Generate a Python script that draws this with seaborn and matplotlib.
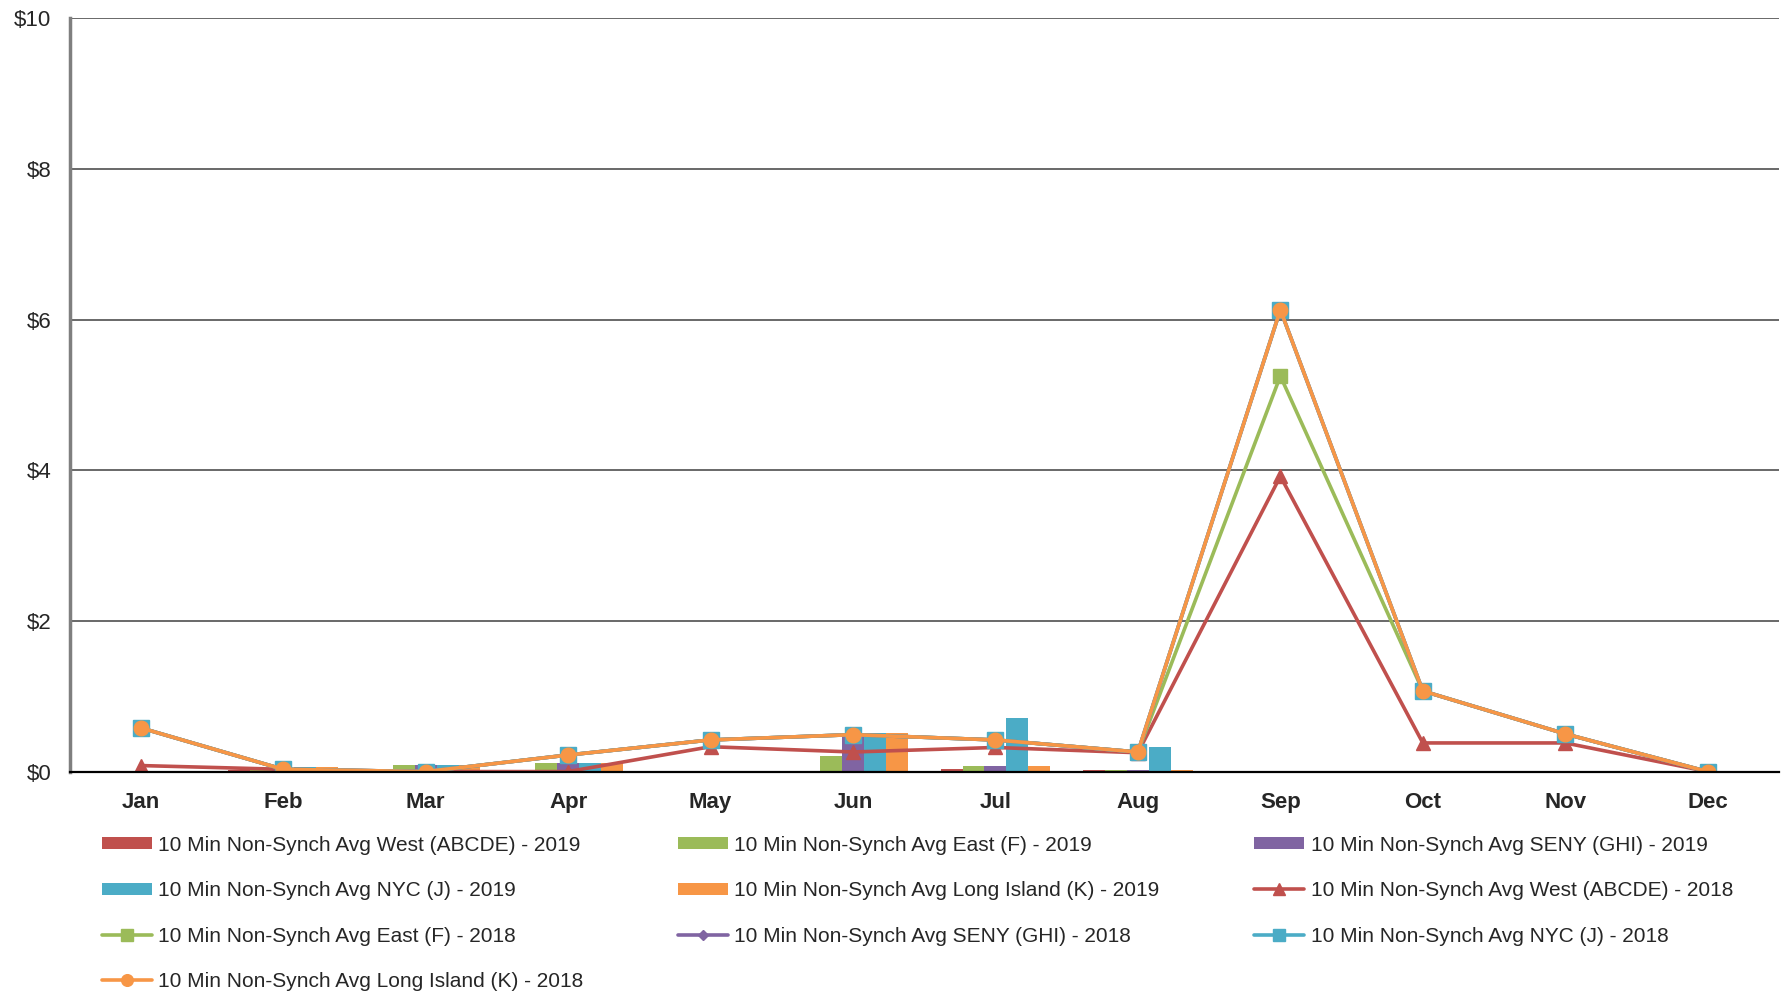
import numpy as np
import pandas as pd
import matplotlib
matplotlib.use('Agg')
import matplotlib.pyplot as plt
import seaborn as sns
from matplotlib.patches import Patch
from matplotlib.lines import Line2D

sns.set_style('white')
plt.rcParams['font.family'] = ['Liberation Sans', 'DejaVu Sans']

months = ['Jan', 'Feb', 'Mar', 'Apr', 'May', 'Jun', 'Jul', 'Aug', 'Sep', 'Oct', 'Nov', 'Dec']

# 2019 monthly averages (bars), data only through Aug
west_2019 = [0.0, 0.02, 0.01, 0.01, 0.0, 0.0, 0.035, 0.02, np.nan, np.nan, np.nan, np.nan]
east_2019 = [0.0, 0.05, 0.09, 0.11, 0.0, 0.21, 0.075, 0.02, np.nan, np.nan, np.nan, np.nan]
seny_2019 = [0.0, 0.05, 0.09, 0.11, 0.0, 0.51, 0.075, 0.02, np.nan, np.nan, np.nan, np.nan]
nyc_2019 = [0.0, 0.06, 0.09, 0.11, 0.0, 0.51, 0.71, 0.32, np.nan, np.nan, np.nan, np.nan]
li_2019 = [0.0, 0.06, 0.09, 0.11, 0.0, 0.51, 0.075, 0.02, np.nan, np.nan, np.nan, np.nan]

# 2018 monthly averages (lines)
west_2018 = [0.08, 0.03, 0.0, 0.0, 0.33, 0.26, 0.32, 0.25, 3.92, 0.38, 0.38, 0.0]
east_2018 = [0.58, 0.03, 0.0, 0.22, 0.42, 0.49, 0.42, 0.26, 5.25, 1.07, 0.50, 0.0]
seny_2018 = [0.58, 0.03, 0.0, 0.22, 0.42, 0.49, 0.42, 0.26, 6.13, 1.07, 0.50, 0.0]
nyc_2018 = [0.58, 0.03, 0.0, 0.22, 0.42, 0.49, 0.42, 0.26, 6.13, 1.07, 0.50, 0.0]
li_2018 = [0.58, 0.03, 0.0, 0.22, 0.42, 0.49, 0.42, 0.26, 6.13, 1.07, 0.50, 0.0]

zones = ['West (ABCDE)', 'East (F)', 'SENY (GHI)', 'NYC (J)', 'Long Island (K)']
colors = ['#C0504D', '#9BBB59', '#8064A2', '#4BACC6', '#F79646']
markers = ['^', 's', 'D', 's', 'o']
marker_sizes = [10.5, 10.5, 7, 11, 10.5]

bars_2019 = [west_2019, east_2019, seny_2019, nyc_2019, li_2019]
lines_2018 = [west_2018, east_2018, seny_2018, nyc_2018, li_2018]
bar_names = ['10 Min Non-Synch Avg %s - 2019' % z for z in zones]
line_names = ['10 Min Non-Synch Avg %s - 2018' % z for z in zones]

bar_df = pd.DataFrame({
    'month': months * len(zones),
    'value': np.concatenate(bars_2019),
    'series': np.repeat(bar_names, len(months)),
}).dropna()

fig = plt.figure(figsize=(17.87, 9.92), dpi=100)
ax = fig.add_axes([0.0389, 0.2222, 0.9566, 0.7595])

sns.barplot(data=bar_df, x='month', y='value', hue='series', order=months,
            hue_order=bar_names, palette=colors, width=0.77, saturation=1,
            linewidth=0, errorbar=None, legend=False, ax=ax)

for vals, c, m, ms in zip(lines_2018, colors, markers, marker_sizes):
    sns.lineplot(x=months, y=vals, color=c, marker=m, markersize=ms,
                 markeredgecolor=c, markeredgewidth=1, linewidth=2.6,
                 sort=False, legend=False, ax=ax)

ax.set_xlim(-0.5, 11.5)
ax.set_ylim(0, 10)
ax.set_yticks(range(0, 11, 2))
ax.set_yticklabels(['$%d' % v for v in range(0, 11, 2)], fontsize=16)
ax.set_xticks(range(len(months)))
ax.set_xticklabels(months, fontsize=16, fontweight='bold')
ax.set_xticks(np.arange(-0.5, 12, 1), minor=True)
ax.set_xlabel('')
ax.set_ylabel('')

ax.yaxis.grid(True, color='#404040', linewidth=1.1)
ax.set_axisbelow(True)
ax.tick_params(axis='x', which='major', length=0, pad=15)
ax.tick_params(axis='x', which='minor', length=7, width=1.2, color='black', direction='out')
ax.tick_params(axis='y', length=6, width=1, color='#404040', direction='out', pad=7)

sns.despine(ax=ax, top=True, right=True)
ax.spines['left'].set_color('#7f7f7f')
ax.spines['left'].set_linewidth(2.5)
ax.spines['bottom'].set_color('black')
ax.spines['bottom'].set_linewidth(1.6)

bar_handles = [Patch(facecolor=c, edgecolor='none') for c in colors]
line_handles = [Line2D([0], [0], color=c, marker=m, markersize=ms * 0.8, markeredgecolor=c, linewidth=2.6)
                for c, m, ms in zip(colors, markers, marker_sizes)]
handles = bar_handles + line_handles
labels = bar_names + line_names

# matplotlib fills legend columns first; reorder so entries read row by row
order = [0, 3, 6, 9, 1, 4, 7, 2, 5, 8]
fig.legend([handles[i] for i in order], [labels[i] for i in order],
           loc='upper left', bbox_to_anchor=(0.057, 0.1576), ncol=3, frameon=False,
           fontsize=15, handlelength=2.4, handleheight=0.5, handletextpad=0.3,
           columnspacing=4.55, labelspacing=1.27, borderpad=0, borderaxespad=0)

fig.savefig('out.png', dpi=100)
